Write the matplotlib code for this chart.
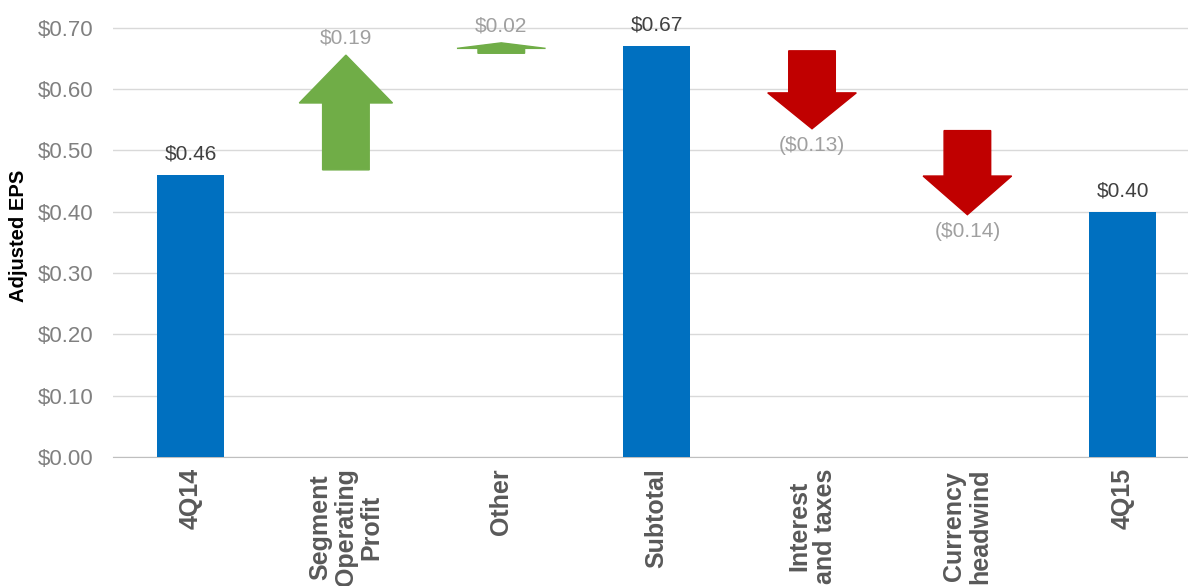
import matplotlib.pyplot as plt
from matplotlib.ticker import FuncFormatter

plt.rcParams["font.family"] = ["Liberation Sans", "DejaVu Sans"]

# EPS bridge 4Q14 -> 4Q15
categories = ["4Q14", "Segment\nOperating\nProfit", "Other", "Subtotal",
              "Interest\nand taxes", "Currency\nheadwind", "4Q15"]
values = [0.46, 0.19, 0.02, 0.67, -0.13, -0.14, 0.40]
kinds = ["total", "delta", "delta", "total", "delta", "delta", "total"]
labels = ["$0.46", "$0.19", "$0.02", "$0.67", "($0.13)", "($0.14)", "$0.40"]

blue = "#0070C0"
green = "#70AD47"
red = "#C00000"

fig = plt.figure(figsize=(11.88, 5.86), dpi=100)
ax = fig.add_axes([0.095, 0.22, 0.905, 0.754])

running = 0.0
for i, (v, k, lab) in enumerate(zip(values, kinds, labels)):
    if k == "total":
        ax.bar(i, v, width=0.43, color=blue, zorder=3)
        ax.text(i, v + 0.018, lab, ha="center", va="bottom", fontsize=15, color="#404040")
        running = v
    else:
        sign = 1 if v > 0 else -1
        start = running + sign * 0.008
        end = running + v + sign * 0.005
        head = min(0.078, 0.45 * abs(v))
        col = green if v > 0 else red
        ax.arrow(i, start, 0, end - start, width=0.30, head_width=0.60 if v > 0.05 else 0.57,
                 head_length=head, length_includes_head=True, color=col, zorder=3)
        if v > 0:
            ax.text(i, end + 0.012, lab, ha="center", va="bottom", fontsize=15, color="#A0A0A0")
        else:
            ax.text(i, end - 0.012, lab, ha="center", va="top", fontsize=15, color="#A0A0A0")
        running = running + v

ax.set_xlim(-0.5, 6.42)
ax.set_ylim(0, 0.72)
ax.set_yticks([i / 10 for i in range(8)])
ax.yaxis.set_major_formatter(FuncFormatter(lambda y, p: f"${y:.2f}"))
ax.set_xticks(range(len(categories)))
ax.set_xticklabels(categories, rotation=90, fontsize=18, fontweight="bold",
                   color="#595959", multialignment="center", linespacing=1.1)
ax.tick_params(axis="both", length=0)
ax.tick_params(axis="y", labelsize=16, labelcolor="#808080", pad=14)
ax.tick_params(axis="x", pad=8)
ax.grid(axis="y", color="#D9D9D9", linewidth=1, zorder=0)
for s in ["top", "right", "left"]:
    ax.spines[s].set_visible(False)
ax.spines["bottom"].set_color("#BFBFBF")
ax.set_ylabel("Adjusted EPS", fontsize=14.5, fontweight="bold", labelpad=7)

fig.savefig("out.png", dpi=100)
